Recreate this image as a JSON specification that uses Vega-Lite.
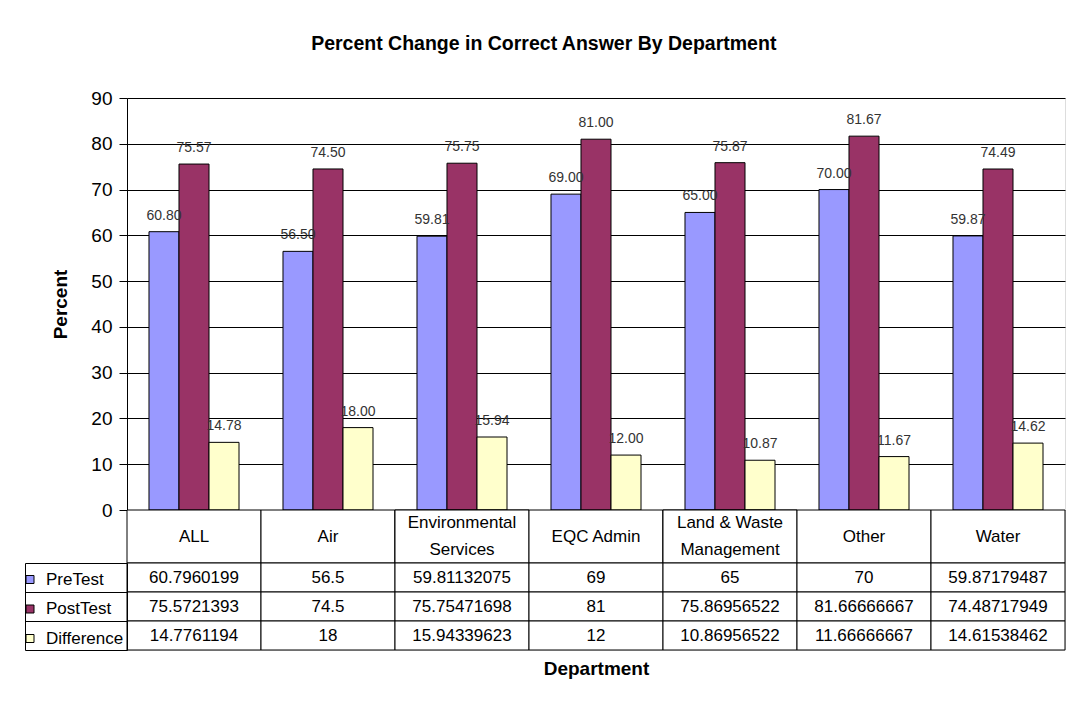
{
  "$schema": "https://vega.github.io/schema/vega-lite/v6.json",
  "padding": {"left": 21, "top": 34, "right": 10, "bottom": 10},
  "background": "white",
  "bounds": "flush",
  "title": {"text": "Percent Change in Correct Answer By Department", "fontSize": 19.5, "fontWeight": "bold", "font": "Liberation Sans", "color": "black", "anchor": "middle", "offset": 34},
  "datasets": {
    "scores": [
      {"dept": "ALL", "series": "PreTest", "value": 60.7960199},
      {"dept": "ALL", "series": "PostTest", "value": 75.5721393},
      {"dept": "ALL", "series": "Difference", "value": 14.7761194},
      {"dept": "Air", "series": "PreTest", "value": 56.5},
      {"dept": "Air", "series": "PostTest", "value": 74.5},
      {"dept": "Air", "series": "Difference", "value": 18},
      {"dept": "Environmental Services", "series": "PreTest", "value": 59.81132075},
      {"dept": "Environmental Services", "series": "PostTest", "value": 75.75471698},
      {"dept": "Environmental Services", "series": "Difference", "value": 15.94339623},
      {"dept": "EQC Admin", "series": "PreTest", "value": 69},
      {"dept": "EQC Admin", "series": "PostTest", "value": 81},
      {"dept": "EQC Admin", "series": "Difference", "value": 12},
      {"dept": "Land & Waste Management", "series": "PreTest", "value": 65},
      {"dept": "Land & Waste Management", "series": "PostTest", "value": 75.86956522},
      {"dept": "Land & Waste Management", "series": "Difference", "value": 10.86956522},
      {"dept": "Other", "series": "PreTest", "value": 70},
      {"dept": "Other", "series": "PostTest", "value": 81.66666667},
      {"dept": "Other", "series": "Difference", "value": 11.66666667},
      {"dept": "Water", "series": "PreTest", "value": 59.87179487},
      {"dept": "Water", "series": "PostTest", "value": 74.48717949},
      {"dept": "Water", "series": "Difference", "value": 14.61538462}
    ],
    "headerLines": [
      {"dept": "ALL", "line": "ALL", "pos": "mid"},
      {"dept": "Air", "line": "Air", "pos": "mid"},
      {"dept": "Environmental Services", "line": "Environmental", "pos": "top"},
      {"dept": "Environmental Services", "line": "Services", "pos": "bottom"},
      {"dept": "EQC Admin", "line": "EQC Admin", "pos": "mid"},
      {"dept": "Land & Waste Management", "line": "Land & Waste", "pos": "top"},
      {"dept": "Land & Waste Management", "line": "Management", "pos": "bottom"},
      {"dept": "Other", "line": "Other", "pos": "mid"},
      {"dept": "Water", "line": "Water", "pos": "mid"}
    ]
  },
  "spacing": 0,
  "vconcat": [
    {
      "width": 938,
      "height": 412,
      "data": {"name": "scores"},
      "encoding": {
        "x": {"field": "dept", "type": "nominal", "sort": ["ALL", "Air", "Environmental Services", "EQC Admin", "Land & Waste Management", "Other", "Water"], "scale": {"paddingInner": 0, "paddingOuter": 0}, "axis": null},
        "xOffset": {"field": "series", "type": "nominal", "sort": ["PreTest", "PostTest", "Difference"], "scale": {"paddingInner": 0, "paddingOuter": 0.733}},
        "y": {"field": "value", "type": "quantitative", "scale": {"domain": [0, 90], "nice": false},
          "axis": {"values": [0, 10, 20, 30, 40, 50, 60, 70, 80, 90], "grid": true, "gridColor": "black", "gridOpacity": 1, "gridWidth": 1, "domainColor": "black", "tickColor": "black", "tickSize": 8, "labelFontSize": 19, "labelColor": "black", "labelFont": "Liberation Sans", "labelPadding": 7, "title": "Percent", "titleFontSize": 19, "titleFont": "Liberation Sans", "titleFontWeight": "bold", "titleColor": "black", "titlePadding": 20}}
      },
      "layer": [
        {
          "mark": {"type": "bar", "stroke": "black", "strokeWidth": 1},
          "encoding": {
            "color": {"field": "series", "type": "nominal", "sort": ["PreTest", "PostTest", "Difference"],
              "scale": {"domain": ["PreTest", "PostTest", "Difference"], "range": ["#9999FF", "#993366", "#FFFFCC"]},
              "legend": {"orient": "none", "legendX": -105.5, "legendY": 473, "title": null, "symbolType": "square", "symbolSize": 64, "symbolStrokeColor": "black", "symbolStrokeWidth": 1, "symbolOpacity": 1, "labelFontSize": 17, "labelFont": "Liberation Sans", "labelColor": "black", "rowPadding": 11.5, "labelOffset": 7.5}}
          }
        },
        {
          "mark": {"type": "text", "baseline": "alphabetic", "dy": -12, "fontSize": 14, "font": "Liberation Sans", "color": "#333333"},
          "encoding": {"text": {"field": "value", "type": "quantitative", "format": ".2f"}}
        }
      ]
    },
    {
      "width": 938,
      "height": 53,
      "data": {"name": "headerLines"},
      "encoding": {
        "x": {"field": "dept", "type": "nominal", "sort": ["ALL", "Air", "Environmental Services", "EQC Admin", "Land & Waste Management", "Other", "Water"], "scale": {"paddingInner": 0, "paddingOuter": 0}, "axis": null}
      },
      "layer": [
        {"mark": {"type": "rect", "fill": "white", "stroke": "black", "strokeWidth": 1}},
        {"mark": {"type": "text", "fontSize": 17, "font": "Liberation Sans", "color": "black"},
          "encoding": {
            "y": {"field": "pos", "type": "ordinal", "scale": {"type": "point", "domain": ["top", "mid", "bottom"], "padding": 1.35}, "axis": null},
            "text": {"field": "line", "type": "nominal"}
          }}
      ]
    },
    {
      "width": 938,
      "height": 87,
      "data": {"name": "scores"},
      "encoding": {
        "x": {"field": "dept", "type": "nominal", "sort": ["ALL", "Air", "Environmental Services", "EQC Admin", "Land & Waste Management", "Other", "Water"], "scale": {"paddingInner": 0, "paddingOuter": 0},
          "axis": {"title": "Department", "domain": false, "ticks": false, "labels": false, "titleFontSize": 19, "titleFont": "Liberation Sans", "titleFontWeight": "bold", "titleColor": "black", "titlePadding": 9}}
      },
      "layer": [
        {
          "mark": {"type": "rect", "fill": "white", "stroke": "black", "strokeWidth": 1},
          "encoding": {
            "y": {"field": "series", "type": "nominal", "sort": ["PreTest", "PostTest", "Difference"], "scale": {"paddingInner": 0, "paddingOuter": 0},
              "axis": {"title": null, "labels": false, "tickBand": "extent", "tickSize": 102, "tickColor": "black", "domainColor": "black"}}
          }
        },
        {
          "mark": {"type": "text", "fontSize": 17, "font": "Liberation Sans", "color": "black"},
          "encoding": {
            "y": {"field": "series", "type": "nominal", "sort": ["PreTest", "PostTest", "Difference"],
              "axis": {"orient": "left", "offset": 102, "title": null, "labels": false, "ticks": false, "domainColor": "black"}},
            "text": {"field": "value", "type": "nominal"}
          }
        }
      ],
      "resolve": {"axis": {"y": "independent"}}
    }
  ]
}
